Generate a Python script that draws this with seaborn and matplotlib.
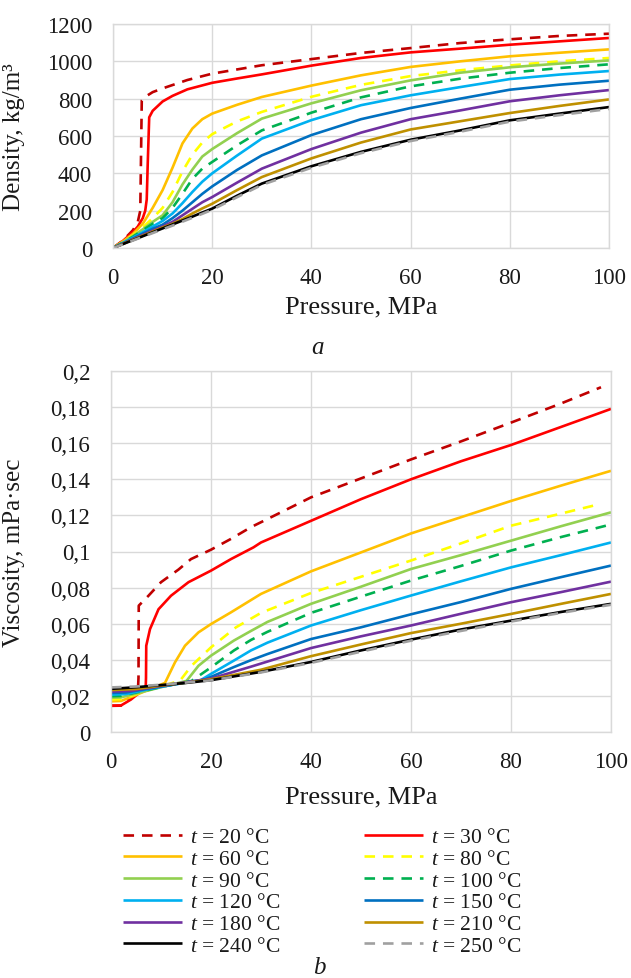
import numpy as np
import pandas as pd
import matplotlib
matplotlib.use("Agg")
import matplotlib.pyplot as plt
import seaborn as sns

# ---------------- data ----------------
temps = ["20", "30", "60", "80", "90", "100", "120", "150", "180", "210", "240", "250"]
colors = ["#C00000", "#FF0000", "#FFC000", "#FFFF00", "#92D050", "#00B050",
          "#00B0F0", "#0070C0", "#7030A0", "#BF9000", "#000000", "#A0A0A0"]
dashed = [True, False, False, True, False, True, False, False, False, False, False, True]

# Density (panel a)
P_d20 = [0, 2, 4, 5, 5.5, 5.8, 6.5, 8, 10, 15, 20, 30, 40, 50, 60, 70, 80, 90, 100]
rho_20 = [0, 40, 95, 140, 200, 790, 810, 835, 855, 900, 934, 979, 1012, 1045, 1071, 1098, 1118, 1136, 1148]
P_d30 = [0, 2, 4, 5, 6, 6.5, 6.8, 7.0, 7.3, 8, 10, 12, 15, 20, 25, 30, 40, 50, 60, 70, 80, 90, 100]
rho_30 = [0, 38, 85, 115, 160, 200, 260, 450, 700, 735, 785, 815, 850, 885, 908, 930, 977, 1018, 1048, 1068, 1089, 1107, 1125]
P_d = [0, 2, 4, 6, 8, 10, 12, 14, 16, 18, 20, 25, 30, 40, 50, 60, 70, 80, 90, 100]
rho_60 = [0, 35, 75, 130, 215, 310, 430, 560, 640, 690, 720, 767, 809, 870, 925, 970, 1000, 1027, 1046, 1064]
rho_80 = [0, 32, 68, 110, 160, 215, 300, 410, 500, 565, 610, 678, 729, 810, 874, 921, 952, 978, 1000, 1018]
rho_90 = [0, 30, 64, 100, 140, 175, 245, 340, 420, 490, 530, 615, 693, 775, 845, 898, 939, 968, 988, 1005]
rho_100 = [0, 29, 60, 95, 130, 160, 215, 290, 370, 425, 461, 550, 630, 725, 807, 866, 907, 939, 964, 984]
rho_120 = [0, 27, 55, 85, 115, 145, 185, 240, 300, 355, 400, 495, 586, 685, 765, 818, 862, 905, 929, 948]
rho_150 = [0, 25, 50, 77, 103, 125, 160, 200, 245, 290, 330, 418, 496, 605, 690, 750, 800, 848, 875, 896]
rho_180 = [0, 23, 46, 70, 93, 115, 140, 175, 210, 245, 273, 350, 425, 530, 618, 690, 737, 786, 818, 846]
rho_210 = [0, 22, 44, 66, 88, 110, 130, 155, 185, 212, 237, 310, 380, 480, 565, 635, 679, 723, 761, 796]
rho_240 = [0, 21, 42, 63, 84, 105, 126, 147, 168, 190, 211, 280, 345, 438, 515, 580, 630, 684, 720, 755]
rho_250 = [0, 20, 40, 60, 80, 100, 120, 141, 162, 183, 205, 272, 338, 430, 508, 573, 623, 677, 712, 745]

# Viscosity (panel b)
P_v20 = [0, 2, 4, 5.4, 5.5, 5.55, 7.5, 10, 13.5, 16, 20, 24, 28, 31.3, 40, 50, 60, 70, 80, 90, 98]
mu_20 = [0.0145, 0.0146, 0.019, 0.024, 0.030, 0.070, 0.0755, 0.083, 0.090, 0.0958, 0.101, 0.107, 0.1135, 0.118, 0.130, 0.1405, 0.151, 0.161, 0.1714, 0.182, 0.191]
P_v30 = [0, 2, 4, 6, 6.95, 7.0, 7.05, 7.8, 9.5, 12, 15.5, 20, 24, 28.5, 30, 40, 50, 60, 70, 80, 90, 100]
mu_30 = [0.0146, 0.0147, 0.018, 0.0225, 0.0255, 0.030, 0.0478, 0.057, 0.068, 0.0755, 0.083, 0.0894, 0.0958, 0.1023, 0.105, 0.117, 0.129, 0.140, 0.150, 0.159, 0.169, 0.179]
P_v60 = [0, 2, 5, 8, 10.8, 12.8, 14.8, 17.5, 20, 24, 30, 40, 50, 60, 70, 80, 90, 100]
mu_60 = [0.017, 0.0172, 0.0205, 0.024, 0.0272, 0.0386, 0.0478, 0.0552, 0.0598, 0.0663, 0.0765, 0.089, 0.0995, 0.110, 0.119, 0.128, 0.1365, 0.1447]
P_v80 = [0, 2, 5, 9, 13.8, 16.1, 20, 25, 30, 40, 50, 60, 70, 80, 90, 97.8]
mu_80 = [0.018, 0.0182, 0.021, 0.0245, 0.0284, 0.0367, 0.0469, 0.058, 0.066, 0.077, 0.086, 0.095, 0.1045, 0.1143, 0.121, 0.1263]
P_v90 = [0, 2, 6, 10, 15.1, 17.5, 20, 24.6, 28, 31.3, 40, 50, 60, 70, 80, 90, 100]
mu_90 = [0.019, 0.0192, 0.022, 0.0248, 0.0283, 0.0367, 0.0423, 0.0507, 0.056, 0.061, 0.071, 0.0805, 0.0903, 0.098, 0.106, 0.114, 0.1217]
P_v100 = [0, 2, 6, 11, 16.1, 20, 24.6, 28, 31.3, 40, 50, 60, 70, 80, 90, 100]
mu_100 = [0.0198, 0.020, 0.0225, 0.0255, 0.0283, 0.0358, 0.0452, 0.051, 0.0555, 0.066, 0.075, 0.0839, 0.092, 0.1005, 0.108, 0.115]
P_v120 = [0, 3, 8, 13, 18, 20, 24.6, 28, 31.3, 40, 50, 60, 70, 80, 90, 100]
mu_120 = [0.0207, 0.021, 0.024, 0.0265, 0.0288, 0.0322, 0.0396, 0.0452, 0.0495, 0.059, 0.0675, 0.0756, 0.0835, 0.0912, 0.098, 0.105]
P_v150 = [0, 3, 8, 13, 18.7, 24.6, 28, 31.3, 40, 50, 60, 70, 80, 90, 100]
mu_150 = [0.0216, 0.0219, 0.0243, 0.0265, 0.029, 0.036, 0.0398, 0.0432, 0.0515, 0.058, 0.0652, 0.072, 0.0793, 0.0858, 0.0922]
P_v180 = [0, 4, 10, 16, 20, 28, 40, 50, 60, 70, 80, 90, 100]
mu_180 = [0.0224, 0.0228, 0.0255, 0.028, 0.0296, 0.0362, 0.0465, 0.053, 0.059, 0.0655, 0.0719, 0.0775, 0.0833]
P_v = [0, 5, 10, 15, 20, 30, 40, 50, 60, 70, 80, 90, 100]
mu_210 = [0.0232, 0.0238, 0.0257, 0.0273, 0.0292, 0.0345, 0.042, 0.0485, 0.0548, 0.060, 0.0654, 0.071, 0.0765]
mu_240 = [0.0239, 0.0248, 0.026, 0.0272, 0.0287, 0.0333, 0.0388, 0.0452, 0.0512, 0.0568, 0.0617, 0.0665, 0.071]
mu_250 = [0.0247, 0.0252, 0.0262, 0.0274, 0.0286, 0.033, 0.0383, 0.0445, 0.0506, 0.056, 0.0612, 0.066, 0.0705]

dens_P = [P_d20, P_d30] + [P_d] * 10
dens_V = [rho_20, rho_30, rho_60, rho_80, rho_90, rho_100, rho_120, rho_150, rho_180, rho_210, rho_240, rho_250]
visc_P = [P_v20, P_v30, P_v60, P_v80, P_v90, P_v100, P_v120, P_v150, P_v180, P_v, P_v, P_v]
visc_V = [mu_20, mu_30, mu_60, mu_80, mu_90, mu_100, mu_120, mu_150, mu_180, mu_210, mu_240, mu_250]

# ---------------- style ----------------
sns.set_style("whitegrid")
plt.rcParams['font.family'] = ['Liberation Serif', 'DejaVu Serif']
plt.rcParams['mathtext.fontset'] = 'custom'
plt.rcParams['mathtext.rm'] = 'Liberation Serif'
plt.rcParams['mathtext.it'] = 'Liberation Serif:italic'
GRID = "#D9D9D9"
TXT = "#1a1a1a"

fig = plt.figure(figsize=(6.31, 9.79), dpi=100)
ax1 = fig.add_axes([113 / 631, 1 - 249 / 979, 496 / 631, 224 / 979])
ax2 = fig.add_axes([111 / 631, 1 - 733 / 979, 500 / 631, 361 / 979])

LW = 1.9
DASH = (4, 3)


def draw(ax, Ps, Vs):
    for t, c, d, P, V in zip(temps, colors, dashed, Ps, Vs):
        df = pd.DataFrame({"P": P, "V": V})
        sns.lineplot(data=df, x="P", y="V", ax=ax, color=c, linewidth=LW,
                     sort=False, estimator=None, label=f"$t$ = {t} °C", legend=False)
        ln = ax.lines[-1]
        if d:
            ln.set_dashes(DASH)
        ln.set_solid_capstyle('butt')
        ln.set_dash_capstyle('butt')
        ln.set_solid_joinstyle('round')


draw(ax1, dens_P, dens_V)
draw(ax2, visc_P, visc_V)

for ax in (ax1, ax2):
    ax.set_xlim(0, 100)
    ax.set_xticks([0, 20, 40, 60, 80, 100])
    ax.grid(True, color=GRID, linewidth=1)
    for s in ax.spines.values():
        s.set_visible(True)
        s.set_color(GRID)
        s.set_linewidth(1)
    ax.tick_params(axis='both', length=0, labelsize=16.5, colors=TXT)
    ax.tick_params(axis='y', pad=15)
    ax.tick_params(axis='x', pad=14)
    ax.set_xlabel("Pressure, MPa", fontsize=19, color=TXT)

ax1.set_ylim(0, 1200)
ax1.set_yticks(np.arange(0, 1201, 200))
ax1.set_ylabel("Density, kg/m³", fontsize=18, color=TXT)
ax1.yaxis.set_label_coords(-0.178, 0.5)
ax1.xaxis.set_label_coords(0.5, -0.21)

ax2.set_ylim(0, 0.2)
yt = np.round(np.arange(0, 0.2001, 0.02), 2)
ax2.set_yticks(yt)
ax2.set_yticklabels([f"{v:g}".replace('.', ',') for v in yt])
ax2.set_ylabel("Viscosity, mPa·sec", fontsize=18, color=TXT)
ax2.yaxis.set_label_coords(-0.172, 0.5)
ax2.xaxis.set_label_coords(0.5, -0.148)

fig.text(318 / 631, 1 - 348 / 979, "a", fontsize=18, style='italic', ha='center', va='center', color=TXT)
fig.text(319 / 631, 1 - 968 / 979, "b", fontsize=18, style='italic', ha='center', va='center', color=TXT)

# legend: row-major in the picture -> column-major order for matplotlib
handles = ax2.get_lines()
labels = [h.get_label() for h in handles]
order = [0, 2, 4, 6, 8, 10, 1, 3, 5, 7, 9, 11]
leg = fig.legend([handles[i] for i in order], [labels[i] for i in order],
                 ncol=2, loc='upper left', bbox_to_anchor=(123 / 631, 1 - 828 / 979),
                 frameon=False, fontsize=15.5, handlelength=2.75, handletextpad=0.35,
                 columnspacing=3.9, labelspacing=0.08, borderpad=0, borderaxespad=0)
for t in leg.get_texts():
    t.set_color(TXT)

fig.savefig("out.png", dpi=100)
